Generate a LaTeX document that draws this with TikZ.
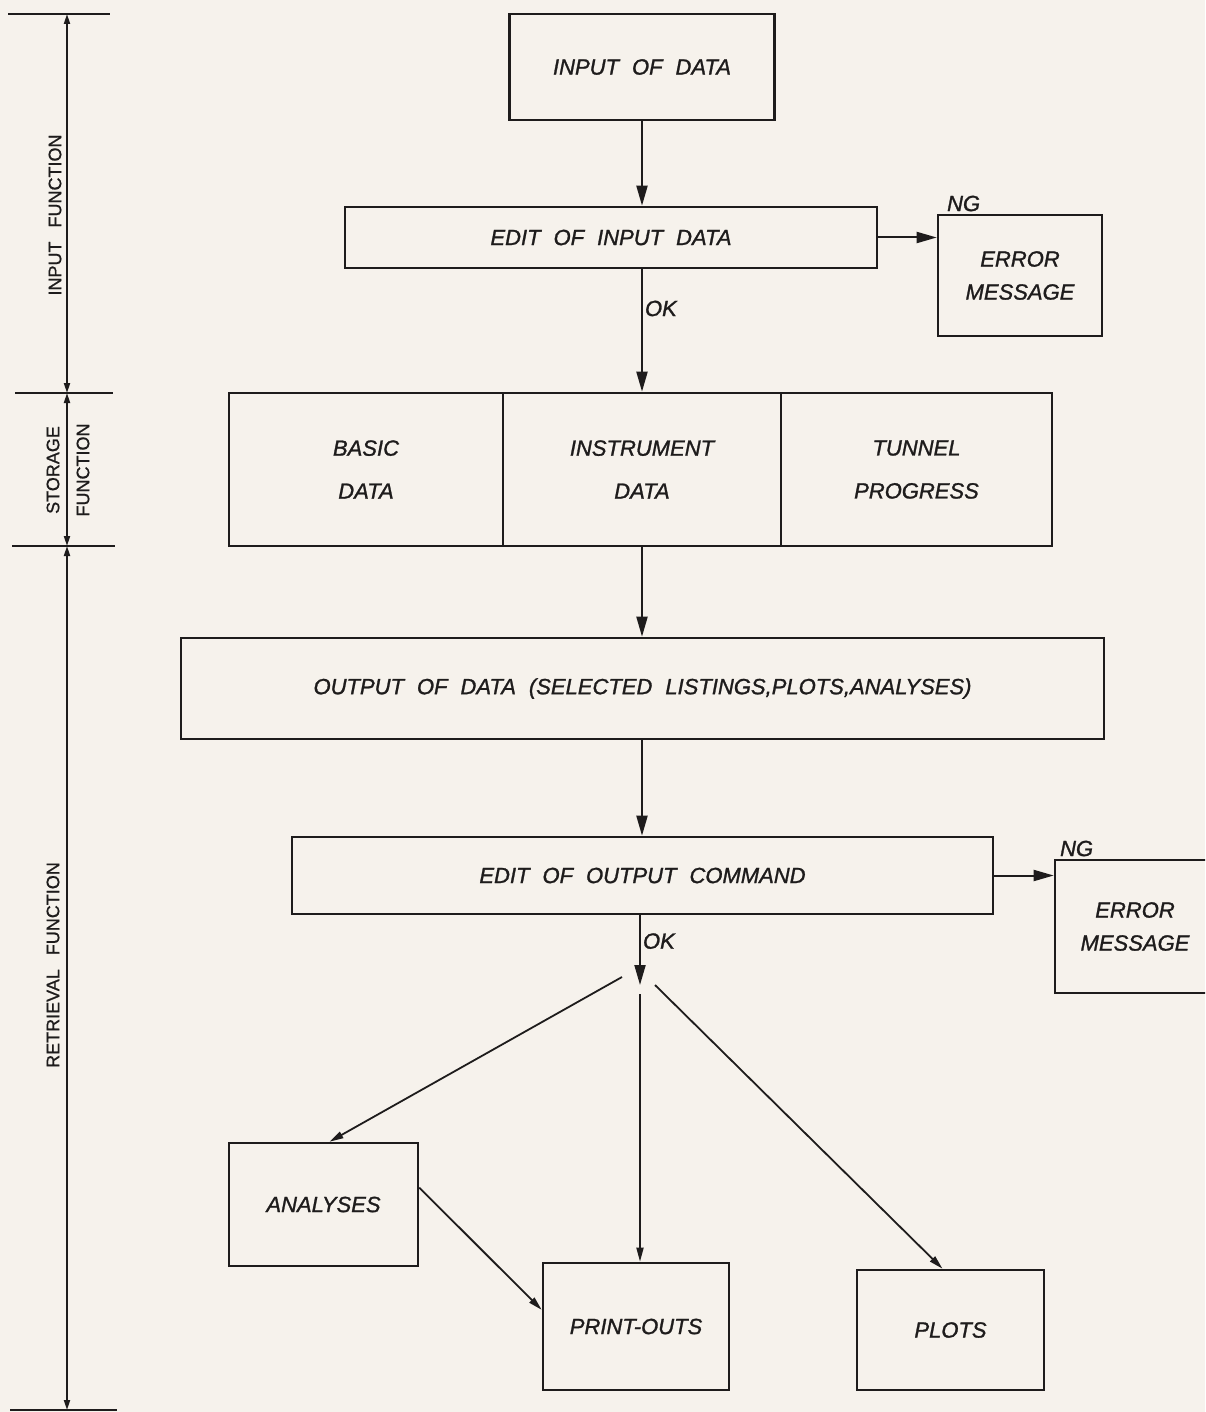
\documentclass[tikz,border=0pt]{standalone}
\usepackage{fontspec}
\setmainfont{Liberation Sans}
\newfontface\leroyit{Liberation Sans Italic}[FakeBold=1.2]
\newfontface\leroy{Liberation Sans}[FakeBold=0.8]
\usetikzlibrary{arrows.meta}
\definecolor{paper}{HTML}{F6F2EC}
\definecolor{ink}{HTML}{1E1C1C}
\newcommand{\boxfont}{\fontsize{11}{16.5}\leroyit\spaceskip=6.5pt plus 1pt\relax}
\newcommand{\sidefont}{\fontsize{9}{11}\leroy\spaceskip=7pt plus 1pt\relax}
\tikzset{block/.style={draw=ink,line width=1.3pt,inner sep=0pt,align=center,font=\boxfont,text=ink}}
\tikzset{flow/.style={draw=ink,line width=1pt,-{Triangle[length=10pt,width=5.5pt]}}}
\tikzset{thinflow/.style={draw=ink,line width=0.9pt,-{Triangle[length=7pt,width=3.5pt]}}}
\tikzset{dim/.style={draw=ink,line width=0.9pt,{Triangle[length=5pt,width=3pt]}-{Triangle[length=5pt,width=3pt]}}}
\tikzset{tick/.style={draw=ink,line width=1.3pt}}
\tikzset{tag/.style={font=\boxfont,text=ink,inner sep=1pt}}
\tikzset{side/.style={font=\sidefont,text=ink,inner sep=0pt}}

\begin{document}
\begin{tikzpicture}[x=0.5pt,y=-0.5pt]
    \useasboundingbox (0,0) rectangle (1205,1412);
    \clip (0,0) rectangle (1205,1412);
    \fill[paper] (0,0) rectangle (1205,1412);
    \node[block,minimum width=132.5pt,minimum height=53pt] (input) at (642,67) {INPUT OF DATA};
    \node[block,minimum width=266pt,minimum height=30.5pt] (editin) at (611,237.5) {EDIT OF INPUT DATA};
    \node[block,minimum width=82pt,minimum height=60.5pt] (errin) at (1020,275.5) {ERROR\\MESSAGE};
    \node[block,minimum width=137pt,minimum height=76.5pt] (basic) at (366,469.5) {BASIC\\[5pt]DATA};
    \node[block,minimum width=139pt,minimum height=76.5pt] (instr) at (642,469.5) {INSTRUMENT\\[5pt]DATA};
    \node[block,minimum width=135.5pt,minimum height=76.5pt] (tunnel) at (916.5,469.5) {TUNNEL\\[5pt]PROGRESS};
    \node[block,minimum width=461.5pt,minimum height=50.5pt] (output) at (642.5,688.5) {OUTPUT OF DATA (SELECTED LISTINGS,PLOTS,ANALYSES)};
    \node[block,minimum width=350.5pt,minimum height=38.5pt] (editout) at (642.5,875.5) {EDIT OF OUTPUT COMMAND};
    \node[block,minimum width=80pt,minimum height=66.5pt] (errout) at (1135,926.5) {ERROR\\MESSAGE};
    \node[block,minimum width=94.5pt,minimum height=61.5pt] (analyses) at (323.5,1204.5) {ANALYSES};
    \node[block,minimum width=93pt,minimum height=63.5pt] (prints) at (636,1326.5) {PRINT-OUTS};
    \node[block,minimum width=93.5pt,minimum height=60pt] (plots) at (950.5,1330) {PLOTS};
    \node[tag,anchor=south west,xshift=4pt] (ngin) at (errin.north west) {NG};
    \node[tag,anchor=south west,xshift=2pt] (ngout) at (errout.north west) {NG};
    \draw[flow] (input.south) -- (input.south |- editin.north);
    \draw[flow] (input.south |- editin.south) -- node[tag,pos=.32,right] {OK} (instr.north);
    \draw[flow] (editin.east) -- (editin.east -| errin.west);
    \draw[flow] (instr.south) -- (output.north -| instr.south);
    \draw[flow] (output.south -| instr.south) -- (editout.north -| instr.south);
    \coordinate (split) at (640,985);
    \draw[flow] (editout.south -| split) -- node[tag,pos=.37,right] {OK} (split);
    \draw[flow] (editout.east) -- (editout.east -| errout.west);
    \coordinate (brl) at (622,977);
    \coordinate (brm) at (640,994);
    \coordinate (brr) at (655,985);
    \draw[thinflow] (brl) -- ([xshift=3pt]analyses.north);
    \draw[thinflow] (brm) -- (brm |- prints.north);
    \draw[thinflow] (brr) -- ([xshift=-4pt]plots.north);
    \draw[thinflow] (analyses.10) -- (prints.170);
    \coordinate (a0) at (67,14);
    \coordinate (a1) at (67,393);
    \coordinate (a2) at (67,546);
    \coordinate (a3) at (67,1410);
    \draw[tick] (8,14) -- (110,14);
    \draw[tick] (15,393) -- (113,393);
    \draw[tick] (12,546) -- (115,546);
    \draw[tick] (10,1410) -- (117,1410);
    \draw[dim] (a0) -- (a1);
    \draw[dim] (a1) -- (a2);
    \draw[dim] (a2) -- (a3);
    \node[side,rotate=90] (lin) at (55,215) {INPUT FUNCTION};
    \node[side,rotate=90] (lsto) at (53,470) {STORAGE};
    \node[side,rotate=90] (lfun) at (83,470) {FUNCTION};
    \node[side,rotate=90] (lret) at (53,965) {RETRIEVAL FUNCTION};
  \end{tikzpicture}
\end{document}
